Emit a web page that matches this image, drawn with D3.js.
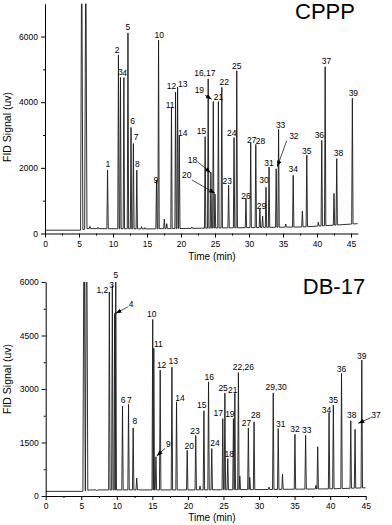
<!DOCTYPE html>
<html><head><meta charset="utf-8">
<script src="https://cdn.jsdelivr.net/npm/d3@7"></script>
<style>
body{margin:0;background:#fff}
svg{display:block}
text{font-family:"Liberation Sans",Arial,sans-serif;fill:#000}
</style>
</head><body>
<svg id="chart" width="392" height="525"></svg>
<script>
// ---------------- DATA ----------------
// CPPP column: peak retention times (min) and peak apex signals (uV)
const cpppPeakTimes   = [6.6, 7.8, 9.2, 10.8, 11.1, 11.6, 12.2, 12.65, 13.0, 13.5, 14.2, 14.7, 16.4, 16.7, 17.55, 17.9, 18.6, 19.2, 19.5, 19.75, 21.6, 23.55, 24.0, 24.4, 24.75, 25.0, 25.5, 26.0, 27.0, 27.8, 28.2, 29.55, 30.25, 31.0, 31.6, 32.0, 32.5, 32.95, 34.0, 34.35, 35.4, 36.5, 37.85, 38.5, 40.2, 40.7, 41.2, 42.5, 42.9, 45.2];
const cpppPeakHeights = [220, 190, 1930, 5440, 4750, 4750, 6110, 3230, 2740, 1930, 210, 180, 1620, 5890, 440, 300, 3820, 4310, 4460, 2970, 200, 2950, 4710, 1860, 4020, 1200, 4020, 4450, 1470, 2920, 4960, 1070, 2760, 2710, 750, 530, 1410, 2020, 1970, 3170, 290, 1770, 680, 2390, 350, 2840, 5080, 1220, 2280, 4120];
const cpppSolventTimes   = [5.4, 6.0];
const cpppSolventHeights = [9000, 9000];
const cpppBaseTimes  = [0, 5.2, 6.3, 15, 23, 30, 38, 43, 46];
const cpppBaseValues = [100, 100, 150, 140, 160, 180, 200, 260, 300];
const cpppLabelText   = ["1","2","3","4","5","6","7","8","9","10","11","12","13","14","15","16,17","18","19","20","21","22","23","24","25","26","27","28","29","30","31","32","33","34","35","36","37","38","39"];
const cpppLabelTimes  = [9.26,10.6,11.08,11.72,12.2,12.9,13.4,13.6,16.3,16.8,18.4,18.6,20.25,20.25,23.0,23.5,21.7,22.7,20.85,25.52,26.35,26.8,27.45,28.2,29.55,30.4,31.7,31.85,32.2,32.95,36.6,34.65,36.5,38.5,40.35,41.4,43.15,45.35];
const cpppLabelValues = [2030,5500,4830,4800,6200,3335,2850,2025,1540,5955,3810,4390,4460,2970,3045,4800,2150,4265,1705,4065,4525,1510,2970,5010,1065,2755,2740,760,1525,2055,2865,3200,1875,2435,2895,5150,2360,4190];
// leader lines: from (t,v) to (t,v)
const cpppLeaderFromT = [22.4, 23.53, 21.62, 35.54];
const cpppLeaderFromV = [2190, 4219, 1630, 2827];
const cpppLeaderToT   = [24.37, 24.51, 25.0, 34.16];
const cpppLeaderToV   = [1852, 4088, 1225, 2035];

// DB-17 column
const db17PeakTimes   = [7.2, 8.95, 9.37, 9.7, 9.85, 10.8, 11.65, 12.3, 12.8, 13.1, 15.05, 15.2, 15.5, 16.1, 17.75, 18.4, 19.9, 21.1, 21.7, 22.25, 22.9, 23.35, 24.9, 25.2, 25.6, 26.4, 26.6, 27.1, 27.3, 28.5, 28.7, 29.3, 31.4, 32.0, 32.7, 33.3, 35.05, 35.6, 36.55, 38.0, 38.25, 39.85, 40.45, 41.6, 42.9, 43.5, 44.45];
const db17PeakHeights = [150, 5720, 5900, 5120, 6500, 2520, 2570, 1910, 505, 180, 4950, 4140, 1100, 3530, 3610, 2640, 1280, 1700, 280, 2390, 3200, 1330, 2170, 2890, 1050, 2170, 2880, 3460, 560, 1910, 520, 2080, 250, 2890, 1890, 610, 1730, 200, 1700, 300, 1380, 2340, 2550, 3440, 2110, 1870, 3810];
const db17SolventTimes   = [5.4, 5.75];
const db17SolventHeights = [9000, 9000];
const db17BaseTimes  = [0, 5.1, 6.2, 20, 30, 40, 45];
const db17BaseValues = [130, 130, 170, 170, 180, 200, 230];
const db17LabelText   = ["1,2","3","5","4","10","11","12","13","16","22,26","29,30","36","39","6","7","8","9","14","20","23","15","24","17","25","21","18","19","27","28","31","32","33","34","35","38","37"];
const db17LabelTimes  = [7.96,9.28,9.85,12.0,14.9,15.85,16.3,17.95,23.0,27.8,32.4,41.6,44.45,10.9,11.75,12.55,17.25,18.9,20.2,21.0,21.95,23.8,24.27,24.95,26.3,25.8,25.9,28.25,29.55,33.05,35.05,36.7,39.5,40.45,43.05,46.45];
const db17LabelValues = [5680,5820,6100,5300,5020,4165,3575,3700,3265,3535,2970,3475,3855,2595,2610,2020,1360,2665,1320,1750,2455,1400,2245,2945,2875,1080,2215,1965,2175,1935,1795,1765,2325,2595,2175,2175];
const db17LeaderFromT = [11.62, 16.78, 45.84];
const db17LeaderFromV = [5307, 1337, 2207];
const db17LeaderToT   = [9.84, 15.61, 43.96];
const db17LeaderToV   = [5122, 1121, 2038];

const cpppXTicks = [0,5,10,15,20,25,30,35,40,45];
const cpppXMinor = [2.5,7.5,12.5,17.5,22.5,27.5,32.5,37.5,42.5];
const cpppYTicks = [0,2000,4000,6000];
const cpppYMinor = [1000,3000,5000];
const db17XTicks = [0,5,10,15,20,25,30,35,40,45];
const db17XMinor = [2.5,7.5,12.5,17.5,22.5,27.5,32.5,37.5,42.5];
const db17YTicks = [0,1500,3000,4500,6000];
const db17YMinor = [750,2250,3750,5250];

// ---------------- DRAW ----------------
const svg = d3.select("#chart");
const defs = svg.append("defs");
defs.append("marker").attr("id","arrow").attr("viewBox","0 0 8 6")
  .attr("refX",8).attr("refY",3).attr("markerWidth",6).attr("markerHeight",4.5)
  .attr("markerUnits","userSpaceOnUse").attr("orient","auto")
  .append("path").attr("d","M0,0L8,3L0,6Z").attr("fill","#000");

function panel(cfg){
  const x = d3.scaleLinear().domain(cfg.xDomain).range(cfg.xRange);
  const y = d3.scaleLinear().domain(cfg.yDomain).range(cfg.yRange);
  const g = svg.append("g");
  const clipId = "clip" + cfg.id;
  defs.append("clipPath").attr("id", clipId).append("rect")
    .attr("x", cfg.xRange[0]).attr("y", cfg.yRange[1])
    .attr("width", cfg.xRange[1]-cfg.xRange[0]).attr("height", cfg.yRange[0]-cfg.yRange[1]+1);

  const base = d3.scaleLinear().domain(cfg.baseTimes).range(cfg.baseValues).clamp(true);
  const hw = 0.1, hwS = 0.17;
  const windows = [];
  let pts = [];
  cfg.peakTimes.forEach((t,i)=>{
    pts.push([t-hw, base(t-hw)], [t, cfg.peakHeights[i]], [t+hw, base(t+hw)]);
    windows.push([t-hw, t+hw]);
  });
  cfg.solventTimes.forEach((t,i)=>{
    pts.push([t-hwS, base(t-hwS)], [t, cfg.solventHeights[i]], [t+hwS, base(t+hwS)]);
    windows.push([t-hwS, t+hwS]);
  });
  cfg.baseTimes.forEach((t,i)=>{
    if(!windows.some(w=>t>=w[0]&&t<=w[1])) pts.push([t, cfg.baseValues[i]]);
  });
  pts.sort((a,b)=>a[0]-b[0]);
  const line = d3.line().x(d=>x(d[0])).y(d=>y(d[1]));
  g.append("path").attr("clip-path",`url(#${clipId})`)
    .attr("d", line(pts)).attr("fill","none").attr("stroke","#1a1a1a")
    .attr("stroke-width",0.9).attr("stroke-linejoin","round");

  // axes
  const fs = "8.5px";
  const fmt = d3.format("d");
  g.append("g").attr("transform",`translate(0,${cfg.yRange[0]})`)
    .call(d3.axisBottom(x).tickValues(cfg.xTicks).tickFormat(fmt).tickSize(4).tickSizeOuter(0).tickPadding(3));
  g.append("g").attr("transform",`translate(0,${cfg.yRange[0]})`)
    .call(d3.axisBottom(x).tickValues(cfg.xMinor).tickSize(2).tickFormat(""))
    .select(".domain").remove();
  g.append("g").attr("transform",`translate(${cfg.xRange[0]},0)`)
    .call(d3.axisLeft(y).tickValues(cfg.yTicks).tickFormat(fmt).tickSize(4).tickSizeOuter(0).tickPadding(3));
  g.append("g").attr("transform",`translate(${cfg.xRange[0]},0)`)
    .call(d3.axisLeft(y).tickValues(cfg.yMinor).tickSize(2).tickFormat(""))
    .select(".domain").remove();
  g.selectAll(".tick text").style("font-size",fs).attr("font-family",null);
  g.selectAll(".domain,.tick line").attr("stroke","#000");

  g.append("text").attr("x", cfg.xTitleX).attr("y", cfg.xTitleY)
    .attr("text-anchor","middle").style("font-size","10px").text("Time (min)");
  g.append("text").attr("transform",`translate(${cfg.yTitleX},${cfg.yTitleY}) rotate(-90)`)
    .attr("text-anchor","middle").style("font-size","10.5px").text("FID Signal (uv)");
  g.append("text").attr("x", cfg.titleX).attr("y", cfg.titleY)
    .attr("text-anchor","middle").style("font-size","22px").text(cfg.title);

  // peak labels
  g.selectAll("text.lab").data(cfg.labelText).join("text").attr("class","lab")
    .attr("x",(d,i)=>x(cfg.labelTimes[i])).attr("y",(d,i)=>y(cfg.labelValues[i]))
    .attr("text-anchor","middle").style("font-size","8.5px").text(d=>d);
  // leaders
  g.selectAll("line.lead").data(cfg.leadFromT).join("line").attr("class","lead")
    .attr("x1",(d,i)=>x(d)).attr("y1",(d,i)=>y(cfg.leadFromV[i]))
    .attr("x2",(d,i)=>x(cfg.leadToT[i])).attr("y2",(d,i)=>y(cfg.leadToV[i]))
    .attr("stroke","#000").attr("stroke-width",0.7).attr("marker-end","url(#arrow)");
}

panel({id:"a", title:"CPPP", titleX:325, titleY:18.5,
  xDomain:[0,46], xRange:[45,357.8], yDomain:[0,7000], yRange:[233.5,3.7],
  peakTimes:cpppPeakTimes, peakHeights:cpppPeakHeights,
  solventTimes:cpppSolventTimes, solventHeights:cpppSolventHeights,
  baseTimes:cpppBaseTimes, baseValues:cpppBaseValues,
  labelText:cpppLabelText, labelTimes:cpppLabelTimes, labelValues:cpppLabelValues,
  leadFromT:cpppLeaderFromT, leadFromV:cpppLeaderFromV, leadToT:cpppLeaderToT, leadToV:cpppLeaderToV,
  xTicks:cpppXTicks, xMinor:cpppXMinor, yTicks:cpppYTicks, yMinor:cpppYMinor,
  xTitleX:212, xTitleY:260, yTitleX:11, yTitleY:127});

panel({id:"b", title:"DB-17", titleX:334, titleY:293.5,
  xDomain:[0,45], xRange:[45.7,365.7], yDomain:[0,6000], yRange:[496,282],
  peakTimes:db17PeakTimes, peakHeights:db17PeakHeights,
  solventTimes:db17SolventTimes, solventHeights:db17SolventHeights,
  baseTimes:db17BaseTimes, baseValues:db17BaseValues,
  labelText:db17LabelText, labelTimes:db17LabelTimes, labelValues:db17LabelValues,
  leadFromT:db17LeaderFromT, leadFromV:db17LeaderFromV, leadToT:db17LeaderToT, leadToV:db17LeaderToV,
  xTicks:db17XTicks, xMinor:db17XMinor, yTicks:db17YTicks, yMinor:db17YMinor,
  xTitleX:212, xTitleY:521, yTitleX:11, yTitleY:379});
</script>
</body></html>
